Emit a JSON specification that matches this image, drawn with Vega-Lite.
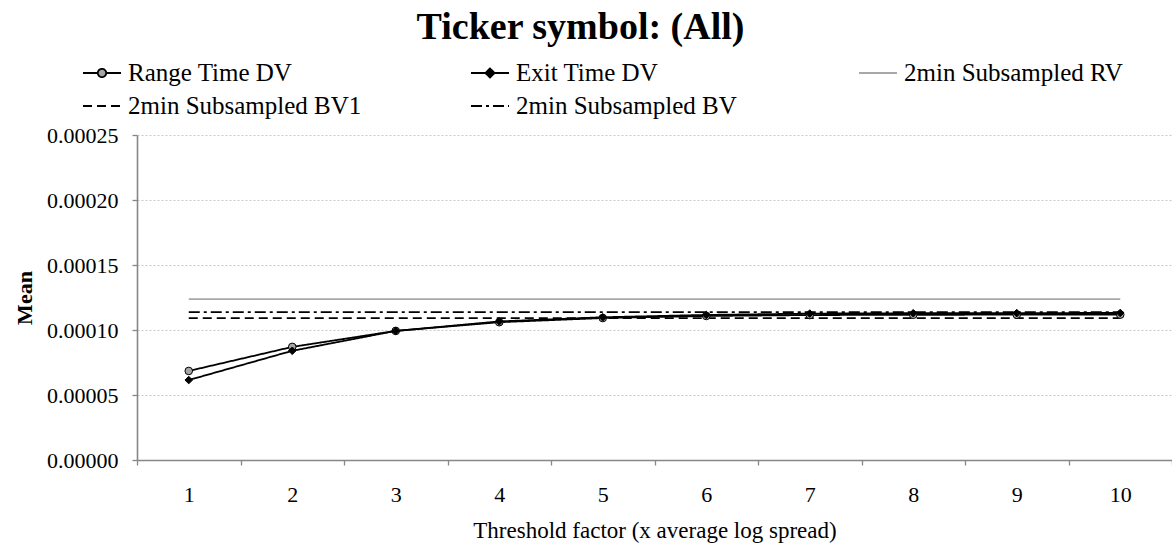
{
  "$schema": "https://vega.github.io/schema/vega-lite/v6.json",
  "width": 1035,
  "height": 325,
  "autosize": {"type": "none"},
  "padding": {"left": 137, "top": 135, "right": 0, "bottom": 83},
  "background": "white",
  "title": {
    "text": "Ticker symbol: (All)",
    "font": "Liberation Serif",
    "fontSize": 38,
    "fontWeight": "bold",
    "color": "black",
    "anchor": "middle",
    "baseline": "alphabetic",
    "offset": 14,
    "dx": -74,
    "dy": 38
  },
  "config": {
    "view": {"stroke": null},
    "font": "Liberation Serif",
    "axis": {
      "labelFont": "Liberation Serif",
      "titleFont": "Liberation Serif",
      "labelColor": "black",
      "titleColor": "black",
      "domainColor": "#878787",
      "domainWidth": 1.6,
      "tickColor": "#878787",
      "tickWidth": 1.3,
      "tickSize": 5
    }
  },
  "data": {
    "values": [
      {"x": 1, "series": "Range Time DV", "value": 0.0000685},
      {"x": 2, "series": "Range Time DV", "value": 0.0000870},
      {"x": 3, "series": "Range Time DV", "value": 0.0000993},
      {"x": 4, "series": "Range Time DV", "value": 0.0001060},
      {"x": 5, "series": "Range Time DV", "value": 0.0001092},
      {"x": 6, "series": "Range Time DV", "value": 0.0001108},
      {"x": 7, "series": "Range Time DV", "value": 0.0001115},
      {"x": 8, "series": "Range Time DV", "value": 0.0001117},
      {"x": 9, "series": "Range Time DV", "value": 0.0001118},
      {"x": 10, "series": "Range Time DV", "value": 0.0001118},
      {"x": 1, "series": "Exit Time DV", "value": 0.0000615},
      {"x": 2, "series": "Exit Time DV", "value": 0.0000840},
      {"x": 3, "series": "Exit Time DV", "value": 0.0000993},
      {"x": 4, "series": "Exit Time DV", "value": 0.0001066},
      {"x": 5, "series": "Exit Time DV", "value": 0.0001098},
      {"x": 6, "series": "Exit Time DV", "value": 0.0001116},
      {"x": 7, "series": "Exit Time DV", "value": 0.0001126},
      {"x": 8, "series": "Exit Time DV", "value": 0.0001129},
      {"x": 9, "series": "Exit Time DV", "value": 0.0001130},
      {"x": 10, "series": "Exit Time DV", "value": 0.0001131},
      {"x": 1, "series": "2min Subsampled RV", "value": 0.0001237},
      {"x": 2, "series": "2min Subsampled RV", "value": 0.0001237},
      {"x": 3, "series": "2min Subsampled RV", "value": 0.0001237},
      {"x": 4, "series": "2min Subsampled RV", "value": 0.0001237},
      {"x": 5, "series": "2min Subsampled RV", "value": 0.0001237},
      {"x": 6, "series": "2min Subsampled RV", "value": 0.0001237},
      {"x": 7, "series": "2min Subsampled RV", "value": 0.0001237},
      {"x": 8, "series": "2min Subsampled RV", "value": 0.0001237},
      {"x": 9, "series": "2min Subsampled RV", "value": 0.0001237},
      {"x": 10, "series": "2min Subsampled RV", "value": 0.0001237},
      {"x": 1, "series": "2min Subsampled BV1", "value": 0.0001091},
      {"x": 2, "series": "2min Subsampled BV1", "value": 0.0001091},
      {"x": 3, "series": "2min Subsampled BV1", "value": 0.0001091},
      {"x": 4, "series": "2min Subsampled BV1", "value": 0.0001091},
      {"x": 5, "series": "2min Subsampled BV1", "value": 0.0001091},
      {"x": 6, "series": "2min Subsampled BV1", "value": 0.0001091},
      {"x": 7, "series": "2min Subsampled BV1", "value": 0.0001091},
      {"x": 8, "series": "2min Subsampled BV1", "value": 0.0001091},
      {"x": 9, "series": "2min Subsampled BV1", "value": 0.0001091},
      {"x": 10, "series": "2min Subsampled BV1", "value": 0.0001091},
      {"x": 1, "series": "2min Subsampled BV", "value": 0.0001137},
      {"x": 2, "series": "2min Subsampled BV", "value": 0.0001137},
      {"x": 3, "series": "2min Subsampled BV", "value": 0.0001137},
      {"x": 4, "series": "2min Subsampled BV", "value": 0.0001137},
      {"x": 5, "series": "2min Subsampled BV", "value": 0.0001137},
      {"x": 6, "series": "2min Subsampled BV", "value": 0.0001137},
      {"x": 7, "series": "2min Subsampled BV", "value": 0.0001137},
      {"x": 8, "series": "2min Subsampled BV", "value": 0.0001137},
      {"x": 9, "series": "2min Subsampled BV", "value": 0.0001137},
      {"x": 10, "series": "2min Subsampled BV", "value": 0.0001137}
    ]
  },
  "encoding": {
    "x": {
      "field": "x",
      "type": "ordinal",
      "bandPosition": 0.5,
      "scale": {"type": "band", "paddingInner": 0, "paddingOuter": 0},
      "axis": {
        "title": "Threshold factor (x average log spread)",
        "titleFontSize": 23,
        "titleFontWeight": "normal",
        "titleY": 77,
        "titleBaseline": "alphabetic",
        "labelFontSize": 22,
        "labelAngle": 0,
        "labelPadding": 19,
        "tickBand": "extent",
        "grid": false
      }
    },
    "y": {
      "field": "value",
      "type": "quantitative",
      "scale": {"domain": [0, 0.00025], "nice": false, "zero": true},
      "axis": {
        "title": "Mean",
        "titleFontSize": 22,
        "titleFontWeight": "bold",
        "titleX": -113,
        "titleY": 162.5,
        "titleAngle": 270,
        "titleAlign": "center",
        "titleBaseline": "middle",
        "values": [0, 0.00005, 0.0001, 0.00015, 0.0002, 0.00025],
        "format": ".5f",
        "labelFontSize": 22,
        "labelPadding": 14,
        "grid": true,
        "gridColor": "#c8c8c8",
        "gridDash": [2, 2],
        "gridWidth": 1
      }
    }
  },
  "layer": [
    {
      "mark": {"type": "line", "strokeCap": "butt"},
      "encoding": {
        "color": {
          "field": "series",
          "type": "nominal",
          "scale": {
            "domain": ["Range Time DV", "Exit Time DV", "2min Subsampled RV", "2min Subsampled BV1", "2min Subsampled BV"],
            "range": ["black", "black", "#a8a8a8", "black", "black"]
          },
          "legend": {
            "title": null,
            "orient": "none",
            "legendX": -55,
            "legendY": -82,
            "direction": "horizontal",
            "columns": 3,
            "gridAlign": "all",
            "columnPadding": 105,
            "rowPadding": -3,
            "padding": 0,
            "symbolSize": 1444,
            "labelOffset": 6,
            "labelFont": "Liberation Serif",
            "labelFontSize": 25,
            "labelColor": "black",
            "labelLimit": 0,
            "labelBaseline": "middle",
            "encode": {
              "symbols": {
                "update": {
                  "shape": {"signal": "datum.value === 'Range Time DV' ? 'M-1,0L-0.22,0M0.22,0L1,0M-0.22,0A0.22,0.22,0,1,1,0.22,0A0.22,0.22,0,1,1,-0.22,0Z' : datum.value === 'Exit Time DV' ? 'M-1,0L1,0M-0.24,0L0,-0.24L0.24,0L0,0.24Z' : 'M-1,0L1,0'"},
                  "fill": {"signal": "datum.value === 'Range Time DV' ? '#a6a6a6' : datum.value === 'Exit Time DV' ? 'black' : 'transparent'"},
                  "strokeDash": {"signal": "datum.value === '2min Subsampled BV1' ? [8, 5] : datum.value === '2min Subsampled BV' ? [10, 4, 3, 4] : [1, 0]"},
                  "strokeWidth": {"signal": "datum.value === '2min Subsampled RV' ? 2.8 : datum.value === 'Range Time DV' || datum.value === 'Exit Time DV' ? 1.7 : 2.5"},
                  "opacity": {"value": 1}
                }
              }
            }
          }
        },
        "strokeDash": {
          "field": "series",
          "type": "nominal",
          "scale": {
            "domain": ["Range Time DV", "Exit Time DV", "2min Subsampled RV", "2min Subsampled BV1", "2min Subsampled BV"],
            "range": [[1, 0], [1, 0], [1, 0], [9, 5], [11, 4, 3, 4]]
          },
          "legend": null
        },
        "strokeWidth": {
          "field": "series",
          "type": "nominal",
          "scale": {
            "domain": ["Range Time DV", "Exit Time DV", "2min Subsampled RV", "2min Subsampled BV1", "2min Subsampled BV"],
            "range": [1.8, 1.8, 2.8, 2.6, 2.6]
          },
          "legend": null
        },
        "order": {"field": "x", "type": "quantitative"}
      }
    },
    {
      "transform": [{"filter": "datum.series === 'Range Time DV' || datum.series === 'Exit Time DV'"}],
      "mark": {"type": "point", "filled": true, "stroke": "black", "strokeWidth": 1, "opacity": 1, "size": 58},
      "encoding": {
        "shape": {
          "field": "series",
          "type": "nominal",
          "scale": {"domain": ["Range Time DV", "Exit Time DV"], "range": ["circle", "diamond"]},
          "legend": null
        },
        "fill": {
          "field": "series",
          "type": "nominal",
          "scale": {"domain": ["Range Time DV", "Exit Time DV"], "range": ["#a6a6a6", "black"]},
          "legend": null
        }
      }
    }
  ]
}
